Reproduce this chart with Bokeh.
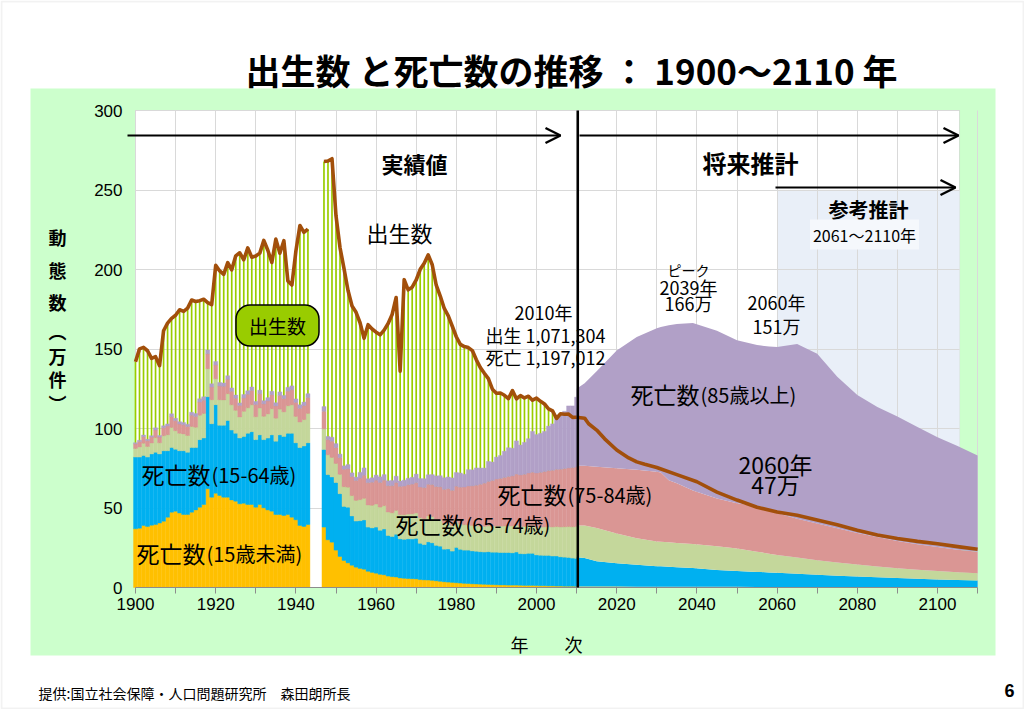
from bokeh.plotting import figure
from bokeh.models import (ColumnDataSource, Label, BoxAnnotation, Arrow, OpenHead,
                          FixedTicker, Range1d)
from bokeh.embed import file_html
from bokeh.resources import INLINE

# ---------------- data (万人) ----------------
years_prewar = list(range(1900, 1944))
years_postwar = list(range(1947, 2011))
hist_years = years_prewar + years_postwar

births_prewar = [142.0, 150.1, 151.0, 148.9, 144.1, 145.2, 139.5, 161.5, 166.3, 169.3,
                 171.2, 174.7, 173.7, 175.7, 180.8, 179.9, 180.4, 181.3, 179.2, 177.9,
                 202.6, 199.1, 196.9, 204.3, 199.8, 208.6, 210.5, 206.1, 213.6, 207.7,
                 208.5, 210.3, 218.3, 212.1, 204.4, 219.1, 210.2, 218.1, 192.8, 190.2,
                 211.6, 227.7, 223.4, 225.4]
births_postwar = [267.9, 268.2, 269.7, 233.8, 213.8, 200.5, 186.8, 177.0, 173.1, 166.5,
                  156.7, 165.3, 162.6, 160.6, 158.9, 161.9, 166.0, 171.7, 182.4, 136.1,
                  193.6, 187.2, 188.9, 193.4, 200.1, 203.9, 209.2, 203.0, 190.1, 183.3,
                  175.5, 170.9, 164.3, 157.7, 152.9, 151.5, 150.9, 149.0, 143.2, 138.3,
                  134.7, 131.4, 124.7, 122.2, 122.3, 120.9, 118.8, 123.8, 118.7, 120.7,
                  119.2, 120.3, 117.8, 119.1, 117.1, 115.4, 112.4, 111.1, 106.3, 109.3,
                  109.0, 109.1, 107.0, 107.1]

deaths_0_14 = [36.9, 37.3, 39.0, 38.4, 39.2, 39.6, 40.5, 41.7, 44.2, 47.4,
               48.0, 46.8, 45.9, 45.9, 47.4, 48.8, 50.5, 52.2, 62.1, 56.8,
               59.3, 57.9, 56.8, 56.8, 55.1, 54.3, 52.6, 53.0, 52.2, 52.2,
               50.5, 52.2, 50.1, 48.8, 48.0, 45.9, 45.9, 45.3, 45.9, 44.2,
               42.6, 39.0, 38.4, 39.6,
               38.0, 30.0, 28.5, 23.5, 19.5, 17.0, 15.5, 14.0, 12.8, 12.0,
               11.5, 10.2, 9.5, 9.0, 8.3, 8.0, 7.2, 6.8, 6.6, 6.0,
               5.8, 5.6, 5.5, 5.4, 5.0, 4.8, 4.7, 4.5, 4.2, 3.9,
               3.6, 3.4, 3.2, 3.0, 2.8, 2.6, 2.5, 2.3, 2.2, 2.1,
               2.0, 1.9, 1.8, 1.7, 1.6, 1.6, 1.5, 1.5, 1.5, 1.4,
               1.3, 1.3, 1.3, 1.2, 1.1, 1.1, 1.0, 1.0, 0.9, 0.9,
               0.8, 0.8, 0.8, 0.7]
deaths_15_64 = [45.1, 44.7, 44.0, 43.6, 44.8, 45.4, 43.5, 44.3, 41.8, 40.6,
                39.0, 39.2, 40.1, 39.1, 40.6, 39.2, 42.5, 41.8, 57.9, 46.2,
                55.7, 44.1, 45.2, 48.2, 43.9, 42.7, 41.4, 42.0, 44.8, 45.8,
                42.5, 43.8, 42.9, 45.2, 48.0, 46.1, 50.1, 49.7, 51.1, 52.8,
                48.4, 49.0, 50.6, 51.4,
                48.8, 41.0, 41.0, 42.5, 39.5, 34.0, 35.0, 31.0, 29.0, 30.0,
                31.0, 27.8, 28.0, 29.0, 27.7, 28.8, 25.5, 25.3, 26.9, 24.6,
                24.5, 25.0, 25.0, 25.5, 22.8, 22.2, 24.0, 23.6, 22.3, 22.1,
                20.5, 20.8, 19.7, 22.2, 21.2, 20.9, 21.0, 20.7, 20.6, 20.4,
                20.3, 20.6, 20.4, 20.5, 20.4, 20.4, 20.5, 20.3, 20.8, 19.9,
                19.9, 20.2, 20.2, 19.3, 19.2, 19.1, 19.2, 18.8, 18.9, 18.4,
                18.3, 18.1, 17.7, 17.6]
deaths_65_74 = [5.5, 6.4, 7.7, 6.7, 6.9, 9.2, 7.0, 9.4, 10.1, 12.7,
                11.6, 11.0, 10.6, 10.6, 13.3, 12.8, 15.4, 15.5, 17.6, 15.1,
                16.3, 16.1, 16.0, 16.9, 15.9, 14.4, 13.3, 15.8, 16.0, 16.9,
                14.4, 16.9, 14.7, 15.2, 16.4, 14.5, 16.2, 15.5, 17.3, 17.9,
                16.6, 16.1, 16.6, 18.5,
                13.0, 12.5, 12.3, 12.0, 12.2, 12.4, 12.6, 12.8, 13.0, 13.3,
                13.6, 13.9, 14.2, 14.5, 14.6, 14.7, 14.8, 14.9, 15.0, 15.2,
                15.4, 15.6, 15.8, 16.0, 16.1, 16.2, 16.3, 16.4, 16.5, 16.4,
                16.3, 16.2, 16.1, 16.0, 16.0, 16.0, 16.0, 16.0, 16.0, 16.1,
                16.2, 16.3, 16.4, 16.5, 16.6, 16.7, 16.8, 16.9, 17.0, 17.1,
                17.2, 17.3, 17.4, 17.5, 17.7, 17.9, 18.1, 18.3, 18.5, 18.8,
                19.1, 19.4, 19.7, 20.0]
deaths_75_84 = [2.9, 3.4, 4.1, 3.6, 3.7, 4.9, 3.7, 5.0, 5.4, 6.8,
                6.2, 5.9, 5.7, 5.7, 7.1, 6.8, 8.2, 8.3, 9.4, 8.0,
                8.7, 8.6, 8.5, 9.0, 8.5, 7.7, 7.1, 8.4, 8.5, 9.0,
                7.7, 9.0, 7.8, 8.1, 8.8, 7.7, 8.6, 8.3, 9.2, 9.5,
                8.8, 8.6, 8.8, 9.9,
                11.0, 9.5, 10.2, 10.0, 10.5, 11.0, 11.5, 12.0, 12.5, 13.5,
                14.5, 14.0, 14.5, 15.0, 15.5, 16.0, 16.5, 17.0, 17.5, 17.8,
                18.1, 18.4, 18.7, 19.0, 19.3, 19.6, 19.9, 20.2, 20.5, 20.9,
                21.3, 21.7, 22.1, 22.5, 23.1, 23.7, 24.3, 24.9, 25.5, 26.3,
                27.1, 27.9, 28.7, 29.5, 30.0, 30.5, 31.0, 31.5, 32.0, 32.4,
                32.8, 33.2, 33.6, 34.0, 34.4, 34.8, 35.2, 35.6, 36.0, 36.3,
                36.6, 36.9, 37.2, 37.5]
deaths_85_plus = [0.7, 0.8, 1.1, 0.9, 0.9, 1.3, 0.9, 1.3, 1.4, 1.7,
                  1.6, 1.4, 1.4, 1.4, 1.8, 1.8, 2.1, 2.1, 2.3, 2.0,
                  2.2, 2.2, 2.1, 2.3, 2.1, 1.9, 1.7, 2.2, 2.2, 2.2,
                  1.9, 2.2, 2.0, 2.1, 2.2, 2.0, 2.2, 2.0, 2.4, 2.4,
                  2.2, 2.2, 2.2, 2.5,
                  3.0, 2.0, 2.5, 2.5, 2.2, 2.1, 2.7, 2.3, 2.1, 3.6,
                  4.6, 2.5, 2.8, 3.2, 3.5, 3.5, 3.1, 3.3, 4.0, 3.4,
                  3.7, 4.1, 4.3, 5.4, 5.3, 5.6, 6.0, 6.3, 6.7, 7.0,
                  7.3, 7.4, 7.8, 8.6, 8.9, 8.0, 10.3, 10.1, 10.9, 10.2,
                  9.5, 12.6, 11.6, 13.8, 14.4, 16.5, 18.1, 17.4, 20.9, 18.8,
                  20.1, 21.6, 25.7, 24.2, 24.6, 25.3, 28.0, 29.2, 34.1, 34.0,
                  36.0, 39.0, 38.8, 43.9]

# projection (将来推計 / 参考推計)
proj_years = [2010, 2012, 2015, 2020, 2025, 2030, 2031, 2033, 2035, 2039, 2045, 2050, 2055,
              2056, 2058, 2060, 2065, 2070, 2075, 2080, 2085, 2090, 2095, 2100, 2105, 2110]
proj_0_14 = [0.7, 0.7, 0.6, 0.6, 0.5, 0.5, 0.5, 0.5, 0.5, 0.4, 0.4, 0.4, 0.3,
             0.3, 0.3, 0.3, 0.3, 0.3, 0.2, 0.2, 0.2, 0.2, 0.2, 0.2, 0.1, 0.1]
proj_15_64 = [18.3, 17.8, 15.9, 14.7, 13.8, 12.9, 12.8, 12.6, 12.3, 11.8, 10.6, 10.0, 9.5,
              9.4, 9.2, 8.9, 8.3, 7.7, 7.2, 6.7, 6.2, 5.7, 5.3, 4.9, 4.6, 4.3]
proj_65_74 = [20.0, 20.5, 21.0, 18.7, 16.7, 15.6, 15.5, 15.3, 15.2, 15.1, 15.0, 14.1, 12.7,
              12.4, 11.8, 11.3, 10.2, 9.2, 8.3, 7.5, 6.8, 6.2, 5.7, 5.3, 4.9, 4.6]
proj_75_84 = [37.5, 37.5, 38.5, 41.0, 43.0, 43.8, 43.5, 39.1, 37.5, 33.7, 30.0, 28.5, 28.8,
              28.9, 26.7, 26.3, 24.4, 23.1, 21.6, 19.9, 18.5, 17.2, 16.0, 15.0, 14.2, 13.5]
proj_85_plus = [48.5, 52.0, 60.0, 74.0, 83.5, 90.2, 91.5, 97.5, 100.3, 105.3, 105.5, 102.5, 101.2,
                101.2, 103.5, 104.4, 110.0, 106.7, 95.2, 86.7, 81.8, 78.2, 73.8, 69.1, 65.2, 60.5]

birth_proj_years = [2010, 2012, 2013, 2015, 2017, 2020, 2023, 2025, 2027, 2030, 2035, 2040, 2045,
                    2050, 2055, 2060, 2065, 2070, 2075, 2080, 2085, 2090, 2095, 2100, 2105, 2110]
births_proj = [107.1, 106.5, 103.0, 99.0, 93.5, 86.5, 81.5, 79.0, 77.5, 75.5, 71.0, 66.5, 60.0,
               55.0, 50.5, 47.5, 45.5, 42.5, 39.5, 36.0, 33.0, 30.8, 29.0, 27.5, 25.7, 24.0]

x_ticks = list(range(1900, 2111, 10))
y_ticks = [0, 50, 100, 150, 200, 250, 300]

# ---------------- styling ----------------
JP = "Noto Sans CJK JP"
C_AGE = ["#FFC000", "#00B0F0", "#C4D79B", "#DA9694", "#B1A0C7"]
C_BIRTH = "#99CC00"
C_LINE = "#A24F0B"

W, H = 1024, 709

# page-pixel helpers for placing annotations (axis: 1900 at x=135, 4.01 px/year; 0 at y=587, 1.59 px/万)
def X(px):
    return 1900 + (px - 135) / 4.01

def Y(py):
    return (587 - py) / 1.59

p = figure(width=W, height=H, output_backend="svg", toolbar_location=None, title=None,
           x_range=Range1d(X(0), X(W)), y_range=Range1d(Y(H), Y(0)),
           min_border_left=0, min_border_right=0, min_border_top=0, min_border_bottom=0)
p.background_fill_color = "white"
p.border_fill_color = "white"
p.outline_line_color = None

# page frame, green panel, white plot area, reference-projection shading
p.add_layout(BoxAnnotation(left=X(1), right=X(W - 1), bottom=Y(H - 1), top=Y(1), fill_alpha=0,
                           line_color="#D4D4D4", line_width=2, level="image"))
p.add_layout(BoxAnnotation(left=X(30), right=X(995), bottom=Y(655), top=Y(88),
                           fill_color="#CCFFCC", fill_alpha=1, line_color=None, level="image"))
p.add_layout(BoxAnnotation(left=1900, right=2105.5, bottom=0, top=300, fill_color="white",
                           fill_alpha=1, line_color="#A0A0A0", line_width=1, level="image"))
p.add_layout(BoxAnnotation(left=2060, right=2105.5, bottom=0, top=250, fill_color="#E9EFF8",
                           fill_alpha=1, line_color=None, level="image"))

# axes
p.xaxis.fixed_location = 0
p.xaxis.bounds = (1900, 2110)
p.xaxis.ticker = FixedTicker(ticks=x_ticks)
p.xaxis.major_label_overrides = {t: "" for t in x_ticks if t % 20 != 0}
p.xaxis.axis_line_color = "#8C8C8C"
p.xaxis.major_tick_line_color = "#8C8C8C"
p.xaxis.major_tick_out = 6
p.xaxis.major_tick_in = 0
p.xaxis.minor_tick_line_color = None
p.xaxis.major_label_standoff = 4

p.yaxis.fixed_location = 1900
p.yaxis.bounds = (0, 300)
p.yaxis.ticker = FixedTicker(ticks=y_ticks)
p.yaxis.axis_line_color = None
p.yaxis.major_tick_line_color = None
p.yaxis.minor_tick_line_color = None
p.yaxis.major_label_standoff = 7

for ax in (p.xaxis, p.yaxis):
    ax.major_label_text_font = "Liberation Sans"
    ax.major_label_text_font_size = "17px"
    ax.major_label_text_color = "black"

p.xgrid.grid_line_color = "#D9D9D9"
p.ygrid.grid_line_color = "#D9D9D9"
p.xgrid.cross_bounds = (0, 300)
p.ygrid.cross_bounds = (1900, 2105.5)

# births (bars)
births_hist = births_prewar + births_postwar
p.vbar(x=hist_years, top=births_hist, width=0.42, fill_color=C_BIRTH, line_color=None)

# deaths by age (stacked)
hist_src = ColumnDataSource(dict(year=hist_years, a=deaths_0_14, b=deaths_15_64, c=deaths_65_74,
                                 d=deaths_75_84, e=deaths_85_plus))
p.vbar_stack(["a", "b", "c", "d", "e"], x="year", width=1.0, source=hist_src,
             fill_color=C_AGE, line_color=C_AGE, line_width=0.4)

proj_src = ColumnDataSource(dict(year=proj_years, a=proj_0_14, b=proj_15_64, c=proj_65_74,
                                 d=proj_75_84, e=proj_85_plus))
p.varea_stack(["a", "b", "c", "d", "e"], x="year", source=proj_src, color=C_AGE)

# 2010 divider
p.add_layout(Arrow(end=None, x_start=2010.3, y_start=0, x_end=2010.3, y_end=300,
                   line_color="black", line_width=2.5))

# births line
p.line(years_prewar, births_prewar, line_color=C_LINE, line_width=3.6, line_join="round")
p.line(years_postwar, births_postwar, line_color=C_LINE, line_width=3.6, line_join="round")
p.line(birth_proj_years, births_proj, line_color=C_LINE, line_width=3.6, line_join="round")

# period arrows
for (x0, x1, yy) in [(127, 560, 135), (579, 958, 135), (775, 955, 187)]:
    p.add_layout(Arrow(end=OpenHead(size=15, line_width=2.4, line_color="black"),
                       x_start=X(x0), y_start=Y(yy), x_end=X(x1), y_end=Y(yy),
                       line_color="black", line_width=2))

def lab(text, px, py, size, align="center", bold=False, font=JP, **kw):
    p.add_layout(Label(x=X(px), y=Y(py), text=text, text_align=align, text_baseline="middle",
                       text_font=font, text_font_size=f"{size}px",
                       text_font_style="bold" if bold else "normal",
                       text_color=kw.pop("color", "black"), **kw))

# title & footer
lab("出生数 と死亡数の推移 ： 1900～2110 年", 245, 69, 35, align="left", bold=True)
lab("提供:国立社会保障・人口問題研究所　森田朗所長", 38, 692, 14, align="left")
lab("6", 1009, 690, 18, bold=True, font="Liberation Sans")

# axis titles
for ch, yy in [("動", 236), ("態", 269), ("数", 301), ("︵", 330), ("万", 355), ("件", 378), ("︶", 402)]:
    lab(ch, 57, yy, 18, bold=True)
lab("年　　次", 546, 643, 18)

# section headings
lab("実績値", 414, 162, 22, bold=True)
lab("将来推計", 750, 162, 24, bold=True)
lab("参考推計", 868, 209, 20, bold=True)
lab("2061～2110年", 864, 234, 16, background_fill_color="#F5F8FC", padding=3)

# births labels
lab("出生数", 399, 231, 22)
lab("出生数", 277, 325, 19, background_fill_color=C_BIRTH, border_line_color="black",
    border_line_width=1.5, border_radius=14, padding=(13, 7))

# callouts
lab("2010年", 543, 311, 18)
lab("出生 1,071,304", 545, 334, 18)
lab("死亡 1,197,012", 545, 356, 18)
lab("ピーク", 688, 269, 14)
lab("2039年", 688, 286, 18)
lab("166万", 688, 302, 18)
lab("2060年", 776, 301, 18)
lab("151万", 776, 325, 18)
lab("2060年", 775, 463, 23)
lab("47万", 775, 483, 23)

# age-group labels
for (px, py, sub) in [(630, 393, "(85歳以上)"), (497, 493, "(75-84歳)"), (395, 523, "(65-74歳)"),
                      (141, 473, "(15-64歳)"), (136, 552, "(15歳未満)")]:
    lab("死亡数", px, py, 23, align="left")
    lab(sub, px + 70, py + 1, 20, align="left")

open("out.html", "w").write(file_html(p, INLINE))
